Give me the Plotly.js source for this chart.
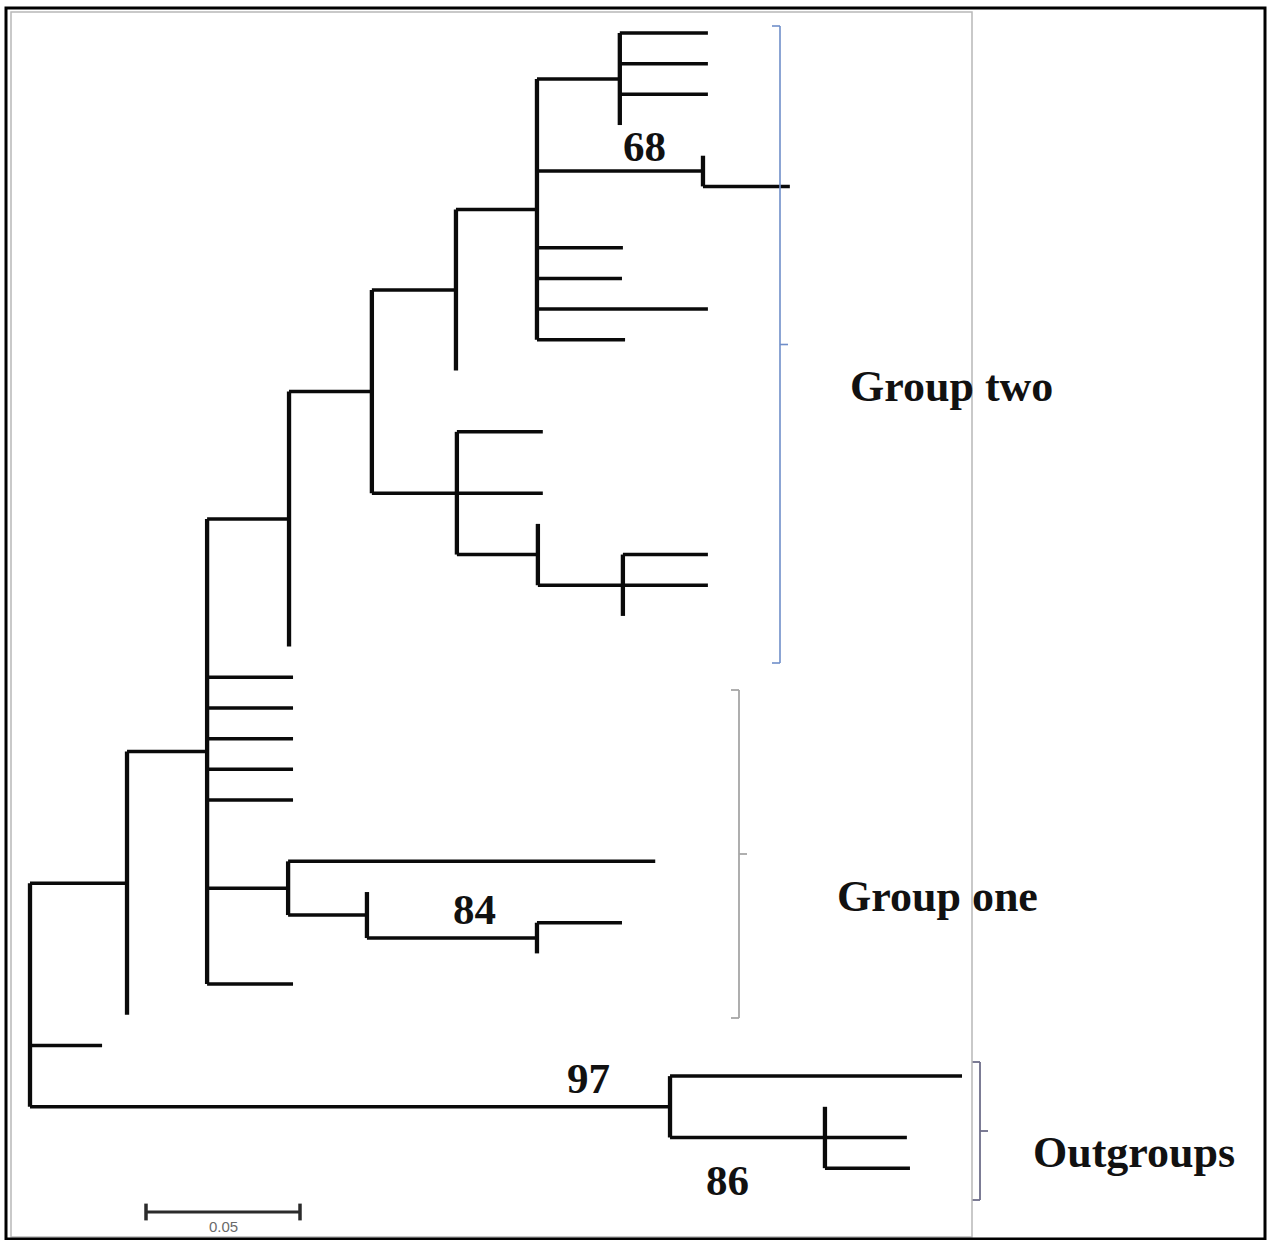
<!DOCTYPE html>
<html>
<head>
<meta charset="utf-8">
<script src="https://cdn.plot.ly/plotly-3.0.1.min.js"></script>
<style>
  html, body { margin: 0; padding: 0; background: #ffffff; }
  #chart { width: 1268px; height: 1240px; }
</style>
</head>
<body>
<div id="chart"></div>
<script>
// ---- Tree topology and branch lengths (substitutions per site) ----
const nodeIds = [
  'root', 'A', 'tR1', 'OG',
  'B', 'tA1',
  'D', 'tB1', 'tB2', 'tB3', 'tB4', 'tB5', 'C', 'tB6',
  'tC1', 'F', 'tF1', 'G', 'tG1', 'tG2',
  'tD1', 'E', 'H', 'I', 'tH1',
  'J', 'K', 'tK1', 'tK2', 'tK3', 'tK4',
  'L', 'tL1', 'tL2',
  'tJ1', 'tJ2', 'tJ3', 'tJ4',
  'tI1', 'tI2', 'M', 'tM1', 'N', 'tN1', 'tN2', 'tN3',
  'tOG1', 'O', 'tO1', 'tO2', 'tO3'
];
const parentIds = [
  null, 'root', 'root', 'root',
  'A', 'A',
  'B', 'B', 'B', 'B', 'B', 'B', 'B', 'B',
  'C', 'C', 'F', 'F', 'G', 'G',
  'D', 'D', 'E', 'E', 'H',
  'H', 'J', 'K', 'K', 'K', 'K',
  'J', 'L', 'L',
  'J', 'J', 'J', 'J',
  'I', 'I', 'I', 'M', 'M', 'N', 'N', 'N',
  'OG', 'OG', 'O', 'O', 'O'
];
const branchLengths = [
  0, 0.0315, 0.0234, 0.2078,
  0.0260, 0,
  0.0266, 0.0279, 0.0279, 0.0279, 0.0279, 0.0279, 0.0263, 0.0279,
  0.1192, 0.0256, 0, 0.0552, 0.0276, 0,
  0, 0.0269, 0.0273, 0.0276, 0,
  0.0263, 0.0269, 0.0286, 0.0286, 0.0286, 0,
  0.0539, 0, 0.0282,
  0.0279, 0.0276, 0.0555, 0.0286,
  0.0279, 0.0279, 0.0263, 0, 0.0276, 0.0276, 0.0276, 0,
  0.0948, 0.0503, 0, 0.0266, 0.0276
];

// ---- Vertical slot of each tip ----
const leafIds = [
  'tK1', 'tK2', 'tK3', 'tK4', 'tL1', 'tL2',
  'tJ1', 'tJ2', 'tJ3', 'tJ4', 'tH1',
  'tI1', 'tI2', 'tM1', 'tN1', 'tN2', 'tN3', 'tD1',
  'tB1', 'tB2', 'tB3', 'tB4', 'tB5',
  'tC1', 'tF1', 'tG1', 'tG2', 'tB6', 'tA1', 'tR1',
  'tOG1', 'tO1', 'tO2', 'tO3'
];
const leafRows = [
  0, 1, 2, 3, 4, 5,
  7, 8, 9, 10, 11,
  13, 15, 16, 17, 18, 19, 20,
  21, 22, 23, 24, 25,
  27, 28, 29, 30, 31, 32, 33,
  34, 35, 36, 37
];

// ---- Bootstrap support ----
const supportNodes = ['L', 'G', 'OG', 'O'];
const supportValues = [68, 84, 97, 86];

// ---- Clade labels ----
const groupNames = ['Group two', 'Group one', 'Outgroups'];

// ---- Scale bar ----
const scaleBarLength = 0.05;
const scaleBarLabel = '0.05';

// ---- Layout computation: x = distance from root, y = midpoint of outer children ----
const parentOf = {}, lenOf = {}, children = {};
nodeIds.forEach((id, i) => {
  parentOf[id] = parentIds[i];
  lenOf[id] = branchLengths[i];
  children[id] = [];
});
nodeIds.forEach(id => { if (parentOf[id]) children[parentOf[id]].push(id); });

const rowOf = {};
leafIds.forEach((id, i) => { rowOf[id] = leafRows[i]; });

const X = {}, Y = {};
function placeX(id, base) {
  X[id] = base + lenOf[id];
  children[id].forEach(c => placeX(c, X[id]));
}
placeX('root', 0);
function placeY(id) {
  if (children[id].length === 0) { Y[id] = rowOf[id]; return Y[id]; }
  const ys = children[id].map(placeY);
  Y[id] = (Math.min(...ys) + Math.max(...ys)) / 2;
  return Y[id];
}
placeY('root');

const hx = [], hy = [], vx = [], vy = [];
nodeIds.forEach(id => {
  const p = parentOf[id];
  if (p && lenOf[id] > 0) {
    hx.push(X[p], X[id], null);
    hy.push(Y[id], Y[id], null);
  }
  const ch = children[id];
  if (ch.length) {
    const ys = ch.map(c => Y[c]);
    vx.push(X[id], X[id], null);
    vy.push(Math.min(...ys), Math.max(...ys), null);
  }
});

// ---- Page geometry helpers (plot spans the full page) ----
const W = 1268, H = 1240;
const pxPerUnit = 3080, rootPx = 30;
const rowPx = 30.68, row0Px = 33;
const xRange = [-rootPx / pxPerUnit, (W - rootPx) / pxPerUnit];
const yRange = [(H - row0Px) / rowPx, -row0Px / rowPx];
const px2x = px => (px - rootPx) / pxPerUnit;
const py2y = py => (py - row0Px) / rowPx;
const pX = px => px / W;
const pY = py => 1 - py / H;

const traces = [
  { x: hx, y: hy, mode: 'lines', type: 'scatter', hoverinfo: 'skip',
    line: { color: '#0a0a0a', width: 3.5 } },
  { x: vx, y: vy, mode: 'lines', type: 'scatter', hoverinfo: 'skip',
    line: { color: '#0a0a0a', width: 4.3 } }
];

// scale bar
const sbX0 = px2x(146), sbY = py2y(1212);
traces.push({
  x: [sbX0, sbX0 + scaleBarLength], y: [sbY, sbY],
  mode: 'lines+markers', type: 'scatter', hoverinfo: 'skip',
  line: { color: '#2b2b2b', width: 3 },
  marker: { symbol: 'line-ns-open', size: 12, line: { color: '#2b2b2b', width: 3.5 } }
});

const serif = 'Liberation Serif, Times New Roman, serif';
const annotations = [];

// support values beside their branches
const supportShift = {
  L: [-58, 25], G: [-62, 29], OG: [-82, 28], O: [-97, -43]
};
supportNodes.forEach((n, i) => {
  annotations.push({
    x: X[n], y: Y[n], xref: 'x', yref: 'y',
    text: String(supportValues[i]), showarrow: false,
    xshift: supportShift[n][0], yshift: supportShift[n][1],
    xanchor: 'center', yanchor: 'middle',
    font: { family: serif, size: 43, color: '#111111', weight: 'bold' }
  });
});

// scale bar label
annotations.push({
  x: sbX0 + scaleBarLength / 2, y: py2y(1226), xref: 'x', yref: 'y',
  text: scaleBarLabel, showarrow: false, xanchor: 'center', yanchor: 'middle',
  font: { family: 'Liberation Sans, Arial, sans-serif', size: 15, color: '#6a6a6a' }
});

// clade labels
const groupLabelPos = [[951, 387], [937, 896], [1134, 1152]];
groupNames.forEach((g, i) => {
  annotations.push({
    x: pX(groupLabelPos[i][0]), y: pY(groupLabelPos[i][1]), xref: 'paper', yref: 'paper',
    text: g, showarrow: false, xanchor: 'center', yanchor: 'middle',
    font: { family: serif, size: 44, color: '#111111', weight: 'bold' }
  });
});

// clade brackets: vertical bar, end ticks to the left, centre tick to the right
const shapes = [];
function bracket(xp, top, bottom, color, w) {
  const mid = (top + bottom) / 2;
  const seg = (x0, y0, x1, y1) => shapes.push({
    type: 'line', xref: 'paper', yref: 'paper',
    x0: pX(x0), y0: pY(y0), x1: pX(x1), y1: pY(y1),
    line: { color: color, width: w }
  });
  seg(xp, top, xp, bottom);
  seg(xp - 8, top, xp, top);
  seg(xp - 8, bottom, xp, bottom);
  seg(xp, mid, xp + 8, mid);
}
bracket(780, 26, 663, '#6f8ec9', 1.6);
bracket(739, 690, 1018, '#a6a6a6', 1.8);
bracket(980, 1062, 1200, '#6e6e8a', 1.8);

// frames
shapes.push({
  type: 'rect', xref: 'paper', yref: 'paper',
  x0: pX(11), y0: pY(1237), x1: pX(972), y1: pY(12),
  line: { color: '#b8b8b8', width: 1.5 }, layer: 'above'
});
shapes.push({
  type: 'rect', xref: 'paper', yref: 'paper',
  x0: pX(6), y0: pY(1239), x1: pX(1265), y1: pY(8),
  line: { color: '#000000', width: 3 }, layer: 'above'
});

const layout = {
  width: W, height: H,
  margin: { l: 0, r: 0, t: 0, b: 0, pad: 0 },
  paper_bgcolor: '#ffffff', plot_bgcolor: '#ffffff',
  showlegend: false,
  xaxis: { range: xRange, visible: false, fixedrange: true },
  yaxis: { range: yRange, visible: false, fixedrange: true },
  annotations: annotations,
  shapes: shapes
};

Plotly.newPlot('chart', traces, layout, { staticPlot: true, displayModeBar: false });
</script>
</body>
</html>
